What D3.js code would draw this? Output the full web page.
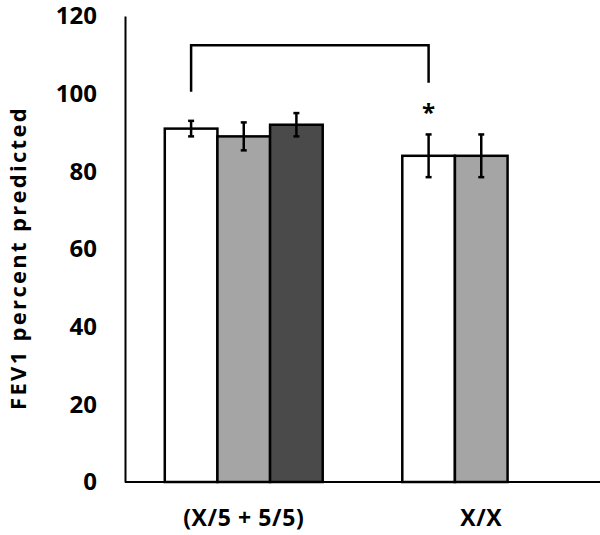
<!DOCTYPE html>
<html>
<head>
<meta charset="utf-8">
<script src="https://cdn.jsdelivr.net/npm/d3@7"></script>
<style>
  body { margin: 0; background: #fff; }
  svg { display: block; font-family: "Open Sans", sans-serif; font-weight: bold; }
</style>
</head>
<body>
<svg width="600" height="535"></svg>
<script>
var svg = d3.select('svg');

// data
var groups = ['(X/5 + 5/5)', 'X/X'];
var seriesKeys = ['s1', 's2', 's3'];
var means = [[91, 89, 92], [84, 84, null]];
var errors = [[2, 3.6, 3], [5.5, 5.5, null]];
var yTicks = [0, 20, 40, 60, 80, 100, 120];
var yLabel = 'FEV1 percent predicted';
var fills = ['#ffffff', '#a5a5a5', '#4a4a4a'];

var y = d3.scaleLinear().domain([0, 120]).range([482, 16]);

var x0 = d3.scaleBand()
  .domain(groups)
  .range([125, 600])
  .paddingInner(0.335)
  .paddingOuter(0.1675);

var x1 = d3.scaleBand()
  .domain(seriesKeys)
  .range([0, x0.bandwidth()]);

// bars
groups.forEach(function(g, gi) {
  var grp = svg.append('g').attr('transform', 'translate(' + x0(g) + ',0)');
  seriesKeys.forEach(function(k, ki) {
    var v = means[gi][ki];
    if (v == null) return;
    grp.append('rect')
      .attr('x', x1(k))
      .attr('y', y(v))
      .attr('width', x1.bandwidth())
      .attr('height', y(0) - y(v))
      .style('fill', fills[ki])
      .style('stroke', '#000')
      .style('stroke-width', 2.5);
    var cx = x1(k) + x1.bandwidth() / 2;
    var e = errors[gi][ki];
    grp.append('line')
      .attr('x1', cx).attr('x2', cx)
      .attr('y1', y(v + e)).attr('y2', y(v - e))
      .style('stroke', '#000').style('stroke-width', 2.5);
    [v + e, v - e].forEach(function(t) {
      grp.append('line')
        .attr('x1', cx - 3).attr('x2', cx + 3)
        .attr('y1', y(t)).attr('y2', y(t))
        .style('stroke', '#000').style('stroke-width', 2.5);
    });
  });
});

// axes
var yAxis = d3.axisLeft(y).tickValues(yTicks).tickSize(0).tickPadding(28);
svg.append('g')
  .attr('transform', 'translate(125,0)')
  .call(yAxis)
  .call(function(g) {
    g.select('.domain').style('stroke', '#000').style('stroke-width', 2);
    g.selectAll('text').style('font-size', '24px').style('font-family', '"Open Sans", sans-serif').style('font-weight', 'bold').attr('fill', '#000');
  });

var xAxis = d3.axisBottom(x0).tickSize(0).tickPadding(28);
svg.append('g')
  .attr('transform', 'translate(0,' + y(0) + ')')
  .call(xAxis)
  .call(function(g) {
    g.select('.domain').attr('d', 'M125,0H600').style('stroke', '#000').style('stroke-width', 2);
    g.selectAll('text').style('font-size', '23px').style('letter-spacing', '0.6px').style('font-family', '"Open Sans", sans-serif').style('font-weight', 'bold').attr('fill', '#000');
  });

svg.append('text')
  .attr('transform', 'translate(17,' + 258 + ') rotate(-90)')
  .attr('text-anchor', 'middle')
  .attr('dominant-baseline', 'central')
  .style('font-size', '22px')
  .style('letter-spacing', '2.3px')
  .style('fill', '#000')
  .text(yLabel);

// significance bracket between first bar of each group
var bx1 = x0(groups[0]) + x1('s1') + x1.bandwidth() / 2;
var bx2 = x0(groups[1]) + x1('s1') + x1.bandwidth() / 2;
svg.append('path')
  .attr('d', 'M' + bx1 + ',' + y(100.5) + 'V' + y(112.5) + 'H' + bx2 + 'V' + y(102.8))
  .style('fill', 'none').style('stroke', '#000').style('stroke-width', 2.5);
svg.append('text')
  .attr('x', bx2)
  .attr('y', y(95.5))
  .attr('text-anchor', 'middle')
  .attr('dominant-baseline', 'central')
  .style('font-size', '24px')
  .style('fill', '#000')
  .text('*');
</script>
</body>
</html>
